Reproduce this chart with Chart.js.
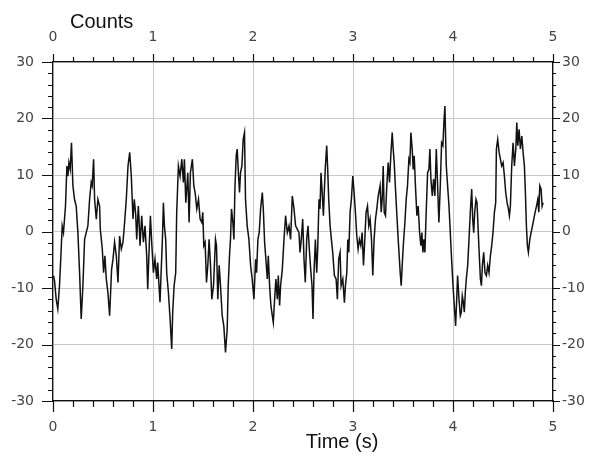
<!DOCTYPE html>
<html>
<head>
<meta charset="utf-8">
<script src="https://cdn.jsdelivr.net/npm/chart.js@4"></script>
<style>
  html, body { margin: 0; padding: 0; background: #fff; }
  #wrap { width: 598px; height: 463px; }
</style>
</head>
<body>
<div id="wrap"><canvas id="sigChart" width="598" height="463"></canvas></div>
<script>
// signal: sample times (s) and counts
const times = [
  0.005, 0.015, 0.032, 0.048, 0.065, 0.082, 0.092, 0.105, 0.115, 0.125, 0.139, 0.149, 0.159, 0.172, 0.185, 0.199, 0.215, 0.232, 0.249, 0.266,
  0.282, 0.299, 0.316, 0.332, 0.349, 0.366, 0.382, 0.392, 0.406, 0.416, 0.433, 0.449, 0.466, 0.473, 0.493, 0.506, 0.519, 0.533, 0.549, 0.566,
  0.576, 0.586, 0.600, 0.616, 0.633, 0.650, 0.666, 0.683, 0.700, 0.716, 0.733, 0.750, 0.767, 0.783, 0.800,
  0.813, 0.827, 0.837, 0.853, 0.860, 0.870, 0.887, 0.904, 0.920, 0.937, 0.947, 0.960, 0.974, 0.987, 1.004, 1.020, 1.037, 1.047, 1.060, 1.070,
  1.080, 1.094, 1.104, 1.114, 1.127, 1.137, 1.154, 1.171, 1.187, 1.197, 1.211, 1.227, 1.237, 1.254, 1.271, 1.288, 1.304, 1.314, 1.328, 1.348,
  1.361, 1.374, 1.394, 1.408, 1.421, 1.438, 1.455, 1.471, 1.488, 1.498, 1.508, 1.521, 1.535, 1.548, 1.561, 1.575, 1.588, 1.605,
  1.625, 1.635, 1.648, 1.662, 1.675, 1.692, 1.708, 1.725, 1.742, 1.752, 1.765, 1.775, 1.785, 1.799, 1.809, 1.819, 1.832, 1.842, 1.852, 1.865,
  1.875, 1.889, 1.902, 1.915, 1.925, 1.942, 1.959, 1.976, 1.992, 2.009, 2.026, 2.036, 2.049, 2.062, 2.076, 2.093, 2.103, 2.116, 2.129, 2.143,
  2.153, 2.166, 2.179, 2.193, 2.203, 2.216, 2.229, 2.243, 2.253, 2.266, 2.276, 2.293, 2.310, 2.326, 2.343, 2.360, 2.376, 2.393, 2.410, 2.426,
  2.460, 2.470, 2.483, 2.497, 2.510, 2.523, 2.537, 2.550, 2.563, 2.577, 2.590, 2.600, 2.610, 2.624, 2.637, 2.647, 2.660, 2.670, 2.680, 2.690,
  2.704, 2.714, 2.724, 2.737, 2.747, 2.757, 2.771, 2.784, 2.797, 2.814, 2.831, 2.844, 2.857, 2.871, 2.881, 2.898, 2.914, 2.924, 2.938, 2.948,
  2.958, 2.971, 2.984, 2.998, 3.011, 3.024, 3.038, 3.051, 3.064, 3.078, 3.091, 3.105, 3.118, 3.131, 3.145, 3.158, 3.171, 3.185, 3.198, 3.211,
  3.225, 3.238, 3.252,
  3.271, 3.282, 3.292, 3.302, 3.312, 3.325, 3.338, 3.352, 3.365, 3.378, 3.392, 3.402, 3.412, 3.425, 3.439, 3.452, 3.462, 3.472, 3.482, 3.492,
  3.505, 3.519, 3.532, 3.545, 3.559, 3.569, 3.579, 3.592, 3.602, 3.612, 3.626, 3.639, 3.652, 3.666, 3.679, 3.689, 3.699, 3.709, 3.719, 3.732,
  3.746, 3.759, 3.769, 3.779, 3.793, 3.806, 3.819, 3.833, 3.846, 3.859, 3.873, 3.886, 3.899, 3.909, 3.919, 3.933, 3.946, 3.960, 3.973, 3.986,
  4.000, 4.013, 4.026, 4.036, 4.046, 4.060, 4.073,
  4.083, 4.093, 4.103, 4.113, 4.123, 4.133, 4.147, 4.160, 4.173, 4.187, 4.197, 4.207, 4.217, 4.230, 4.240, 4.250, 4.260, 4.274, 4.284, 4.294,
  4.307, 4.320, 4.334, 4.347, 4.360, 4.374, 4.387, 4.400, 4.414, 4.427, 4.434, 4.447, 4.461, 4.474, 4.487, 4.501, 4.514, 4.527, 4.541, 4.554,
  4.564, 4.574, 4.587, 4.601, 4.614, 4.628, 4.638, 4.648, 4.661, 4.674, 4.688, 4.701, 4.714, 4.724, 4.734, 4.744, 4.754, 4.768, 4.781, 4.795,
  4.808, 4.821, 4.835, 4.848, 4.858, 4.868, 4.881, 4.891, 4.901
];
const counts = [
  -7.8, -8.7, -12, -13.7, -9.6, -3.1, 1, -0.2, 2.2, 4.5, 11.6, 9.8, 12.2, 11, 15.7, 8.1, 5.7, 4.5, -0.2, -7.3,
  -15.5, -9.6, -1.4, -0.2, 1, 5.7, 8.7, 8.1, 12.8, 5.7, 2.2, 5.7, 4.5, 0.4, -3.1, -7.3, -4.3, -8.4, -10.8, -14.9,
  -10.8, -6.7, -4.9, -1.9, -4.3, -9, -0.8, -3.1, -1.9, 1.6, 5.7, 11.6, 14, 9.8, 2.2,
  5.7, 3, -1.4, 4.5, 2.2, -2.5, 2.8, -1.9, 1, -4.3, -10.2, -3.7, 2.8, -1.9, -7.3, -4.9, -8.4, -5.5, -9.6, -12.5,
  -7.8, -1.4, 5.1, 1, -1.4, -7.3, -10.8, -15.5, -20.8, -14.3, -9.6, -7.3, 3.4, 11.6, 9.8, 12.8, 8.7, 12.8, 5.1, 10.4,
  1.6, 10.4, 12.8, 8.1, 6.9, 4, 5.7, 2.2, 1.6, 3.4, -2.5, -1.9, -9, -6, -1.4, -6, -12, -9.6,
  -1.4, -2.5, -12, -6, -9.6, -14.9, -16.7, -21.4, -17.3, -9.6, -4.3, -1.4, 4, 1.6, -1.4, 7.5, 13.4, 14.6, 11, 6.9,
  10.4, 11.6, 16.3, 17.5, 5.7, 1, -1.4, -6, -8.4, -12, -4.9, -7.3, -1.4, -0.2, 4, 6.9, 4, -1.9, -4.9, -8.4,
  -4.3, -9.6, -13.1, -14.9, -16.1, -12, -8.4, -12, -7.8, -13.1, -9.6, -6.7, -1.4, 2.8, -0.2, 1, -1.4, 6.3, 4, 1,
  -0.2, -3.7, -1.4, 2.2, -4.9, -9, -1.4, 1, -3.1, -6.7, -9.6, -15.5, -7.3, -1.4, -7.3, -3.1, 5.7, 4, 10.4, 7.5,
  2.8, 7.5, 11.6, 15.2, 11, 5.7, 1, -1.4, -3.7, -7.8, -8.4, -12, -4.9, -3.7, -9.6, -8.4, -12.6, -9.6, -7.3, -1.4,
  -3.7, 3.4, 5.7, 9.8, 6.9, 3.4, -0.8, -3.1, -1.4, -2.5, -0.2, -6, -1.4, 3.4, 4.5, 1, 2.2, -1.4, -7.8, -1.4,
  2.2, 4, 6.3,
  8.1, 3.4, 5.7, 11.6, 3.4, 2.8, 8.1, 12.2, 8.7, 13.4, 17.5, 14.6, 12.2, 7.5, 2.8, -1.4, -4.3, -7.3, -9.6, -6,
  -1.9, 1.6, 5.7, 8.1, 12.8, 12.2, 17.5, 14.6, 11, 13.4, 7.5, 2.8, 4.5, -0.2, -2.5, -0.2, -3.7, -1.4, -3.7, 3.4,
  10.4, 11, 14.6, 9.3, 6.3, 9.3, 6.3, 14.6, 8.1, 1.6, 8.1, 15.7, 15.2, 19.3, 22.2, 11.6, 8.1, 4.5, -0.2, -4.9,
  -9.6, -13.1, -16.7, -12.5, -7.8, -12, -14.9,
  -14.3, -11.4, -12.5, -14.3, -10.8, -8.4, -6, -1.4, 3.4, 7.5, 2.2, -0.2, 3.4, 5.7, 5.1, 1, -3.1, -8.4, -9.6, -6,
  -3.7, -7.3, -7.8, -6, -7.3, -4.3, -2.5, -0.2, 3.4, 5.1, 14.6, 16.3, 14, 12.8, 11.6, 12.2, 9.8, 6.9, 5.1, 4,
  2.8, 4.5, 11.6, 15.7, 11.6, 14.6, 19.3, 15.2, 18.1, 14.6, 16.9, 14, 11.6, 6.9, 1, -2.5, -3.7, -1.4, -0.2, 1,
  2.2, 3.4, 4.5, 5.7, 3.4, 8.1, 7.5, 4.5, 5.1
];
const xTicks = [0, 1, 2, 3, 4, 5];
const yTicks = [-30, -20, -10, 0, 10, 20, 30];
const xMinorStep = 0.2;
const yMinorStep = 2;

const points = times.map((t, i) => ({ x: t, y: counts[i] }));

const tickFont = { family: 'DejaVu Sans', size: 14 };
const tickColor = '#444';

// outward tick marks (major + minor) on all four sides, plus the two titles
const tickMarks = {
  id: 'tickMarks',
  afterDraw(chart) {
    const c = chart.ctx;
    const a = chart.chartArea;
    c.save();
    c.strokeStyle = '#111';
    c.lineWidth = 1.2;
    c.beginPath();
    const sx = chart.scales.x, sy = chart.scales.y;
    for (let v = 0; v <= 5.0001; v += xMinorStep) {
      const major = Math.abs(v - Math.round(v)) < 1e-6;
      const px = Math.round(sx.getPixelForValue(v)) + 0.5;
      c.moveTo(px, a.bottom); c.lineTo(px, a.bottom + (major ? 11 : 6));
      c.moveTo(px, a.top); c.lineTo(px, a.top - (major ? 8 : 5));
    }
    for (let v = -30; v <= 30.0001; v += yMinorStep) {
      const major = Math.abs(v % 10) < 1e-6;
      const py = Math.round(sy.getPixelForValue(v)) + 0.5;
      c.moveTo(a.left, py); c.lineTo(a.left - (major ? 11 : 5), py);
      c.moveTo(a.right, py); c.lineTo(a.right + (major ? 7 : 3), py);
    }
    c.stroke();
    c.fillStyle = '#111';
    c.font = '20px "Liberation Sans", Arial, sans-serif';
    c.textBaseline = 'alphabetic';
    c.textAlign = 'left';
    c.fillText('Counts', 70, 28);
    c.textAlign = 'center';
    c.fillText('Time (s)', 342, 448);
    c.restore();
  }
};

function fixSize(w, h) {
  return function(scale) {
    if (w !== null) scale.width = w;
    if (h !== null) scale.height = h;
  };
}

function xAxis(pos, pad, h) {
  return {
    type: 'linear', position: pos, min: 0, max: 5,
    afterBuildTicks: s => { s.ticks = xTicks.map(v => ({ value: v })); },
    ticks: { color: tickColor, font: tickFont, padding: pad, maxRotation: 0 },
    grid: { display: pos === 'bottom', color: '#c8c8c8', lineWidth: 1, drawTicks: false },
    border: { display: true, color: '#111', width: 1.2 },
    afterFit: fixSize(null, h)
  };
}

function yAxis(pos, pad, w) {
  return {
    type: 'linear', position: pos, min: -30, max: 30,
    afterBuildTicks: s => { s.ticks = yTicks.map(v => ({ value: v })); },
    ticks: { color: tickColor, font: tickFont, padding: pad },
    grid: { display: pos === 'left', color: '#c8c8c8', lineWidth: 1, drawTicks: false },
    border: { display: true, color: '#111', width: 1.2 },
    afterFit: fixSize(w, null)
  };
}

new Chart(document.getElementById('sigChart').getContext('2d'), {
  type: 'line',
  data: {
    datasets: [{
      data: points,
      borderColor: '#111',
      borderWidth: 1.5,
      pointRadius: 0,
      tension: 0
    }]
  },
  options: {
    responsive: false,
    animation: false,
    layout: { padding: 0 },
    plugins: { legend: { display: false }, tooltip: { enabled: false } },
    scales: {
      x: xAxis('bottom', 18, 62),
      x2: xAxis('top', 16, 62),
      y: yAxis('left', 19, 53),
      y2: yAxis('right', 9, 45)
    }
  },
  plugins: [tickMarks]
});
</script>
</body>
</html>
